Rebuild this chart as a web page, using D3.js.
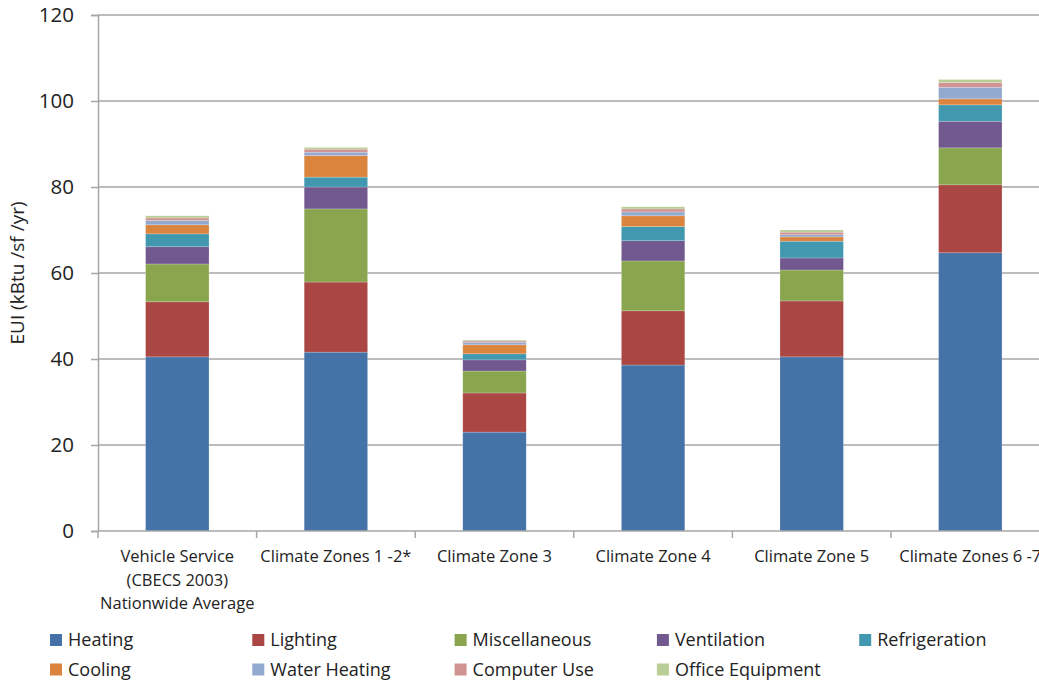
<!DOCTYPE html>
<html>
<head>
<meta charset="utf-8">
<script src="https://cdn.jsdelivr.net/npm/d3@7"></script>
<style>
  html, body { margin: 0; padding: 0; background: #fff; }
  svg { display: block; }
</style>
</head>
<body>
<script>
// Energy use intensity by end use, for vehicle service buildings
const categories = [
  ["Vehicle Service", "(CBECS 2003)", "Nationwide Average"],
  ["Climate Zones 1 -2*"],
  ["Climate Zone 3"],
  ["Climate Zone 4"],
  ["Climate Zone 5"],
  ["Climate Zones 6 -7"]
];
const seriesNames = ["Heating", "Lighting", "Miscellaneous", "Ventilation", "Refrigeration",
                     "Cooling", "Water Heating", "Computer Use", "Office Equipment"];
const seriesColors = ["#4572A7", "#AA4643", "#89A54E", "#71588F", "#4198AF",
                      "#DB843D", "#93A9CF", "#D19392", "#B9CD96"];

// kBtu/sf/yr per end use, one value per category
const heating       = [40.5, 41.6, 23.0, 38.6, 40.5, 64.7];
const lighting      = [12.8, 16.3,  9.1, 12.6, 13.0, 15.8];
const miscellaneous = [ 8.8, 17.0,  5.1, 11.6,  7.2,  8.6];
const ventilation   = [ 4.0,  5.1,  2.6,  4.7,  2.8,  6.2];
const refrigeration = [ 3.0,  2.3,  1.4,  3.3,  3.9,  3.8];
const cooling       = [ 2.1,  5.0,  2.1,  2.5,  1.0,  1.4];
const waterHeating  = [ 1.0,  0.8,  0.6,  0.9,  0.5,  2.7];
const computerUse   = [ 0.6,  0.7,  0.3,  0.7,  0.6,  1.1];
const officeEquip   = [ 0.5,  0.4,  0.2,  0.5,  0.5,  0.7];

const yTicks = [0, 20, 40, 60, 80, 100, 120];
const yTitle = "EUI (kBtu /sf /yr)";

const seriesValues = [heating, lighting, miscellaneous, ventilation, refrigeration,
                      cooling, waterHeating, computerUse, officeEquip];

const W = 1039, H = 683;
const margin = { left: 98, top: 15, bottom: 152 };
const plotW = 951.6;
const plotBottom = H - margin.bottom;

const rows = categories.map((c, i) => {
  const r = { key: i };
  seriesNames.forEach((s, j) => { r[s] = seriesValues[j][i]; });
  return r;
});
const stacked = d3.stack().keys(seriesNames)(rows);

const svg = d3.select("body").append("svg")
  .attr("width", W).attr("height", H)
  .style("font-family", "'Open Sans', sans-serif");

const x = d3.scaleBand()
  .domain(d3.range(categories.length))
  .range([margin.left, margin.left + plotW])
  .paddingInner(0.6).paddingOuter(0.3);
const xOuter = d3.scaleBand()
  .domain(d3.range(categories.length))
  .range([margin.left, margin.left + plotW]);
const y = d3.scaleLinear().domain([0, 120]).range([plotBottom, margin.top]);

const gridColor = "#a6a6a6";

// horizontal gridlines
svg.append("g").selectAll("line").data(yTicks.filter(t => t > 0)).join("line")
  .attr("x1", margin.left).attr("x2", W)
  .attr("y1", d => y(d)).attr("y2", d => y(d))
  .attr("stroke", gridColor).attr("stroke-width", 1.5);

// stacked bars
svg.append("g").selectAll("g").data(stacked).join("g")
  .attr("fill", (d, i) => seriesColors[i])
  .selectAll("rect").data(d => d).join("rect")
  .attr("x", (d, i) => x(i))
  .attr("width", x.bandwidth())
  .attr("y", d => y(d[1]))
  .attr("height", d => y(d[0]) - y(d[1]))
  .attr("stroke", "rgba(255,255,255,0.35)")
  .attr("stroke-width", 0.6);

// y axis
const yAxis = d3.axisLeft(y).tickValues(yTicks).tickSize(7).tickPadding(17).tickFormat(d3.format("d"));
const gy = svg.append("g").attr("transform", `translate(${margin.left},0)`).call(yAxis);
gy.select(".domain").attr("stroke", gridColor).attr("stroke-width", 1.5);
gy.selectAll(".tick line").attr("stroke", gridColor).attr("stroke-width", 1.5);
gy.selectAll(".tick text").attr("font-size", 20.5).attr("fill", "#222")
  .attr("font-family", "'Open Sans', sans-serif");

// x axis line and category boundary ticks
svg.append("line")
  .attr("x1", margin.left).attr("x2", W)
  .attr("y1", plotBottom).attr("y2", plotBottom)
  .attr("stroke", gridColor).attr("stroke-width", 1.5);
svg.append("g").selectAll("line")
  .data(d3.range(categories.length + 1)).join("line")
  .attr("x1", i => margin.left + i * xOuter.step())
  .attr("x2", i => margin.left + i * xOuter.step())
  .attr("y1", plotBottom).attr("y2", plotBottom + 7)
  .attr("stroke", gridColor).attr("stroke-width", 1.5);

// category labels
const catG = svg.append("g").attr("font-size", 16.5).attr("fill", "#222")
  .attr("text-anchor", "middle");
categories.forEach((lines, i) => {
  const cx = x(i) + x.bandwidth() / 2;
  lines.forEach((t, k) => {
    catG.append("text").attr("x", cx).attr("y", plotBottom + 31 + k * 23.5).text(t);
  });
});

// y axis title
svg.append("text")
  .attr("transform", `translate(24,${(margin.top + plotBottom) / 2}) rotate(-90)`)
  .attr("text-anchor", "middle")
  .attr("font-size", 19).attr("fill", "#222")
  .text(yTitle);

// legend
const legend = svg.append("g").attr("font-size", 18).attr("fill", "#222");
seriesNames.forEach((s, i) => {
  const col = i % 5, row = Math.floor(i / 5);
  const lx = 50 + col * 202.3, ly = 634 + row * 29.5;
  legend.append("rect").attr("x", lx).attr("y", ly).attr("width", 12).attr("height", 12)
    .attr("fill", seriesColors[i]);
  legend.append("text").attr("x", lx + 18).attr("y", ly + 12).text(s);
});
</script>
</body>
</html>
